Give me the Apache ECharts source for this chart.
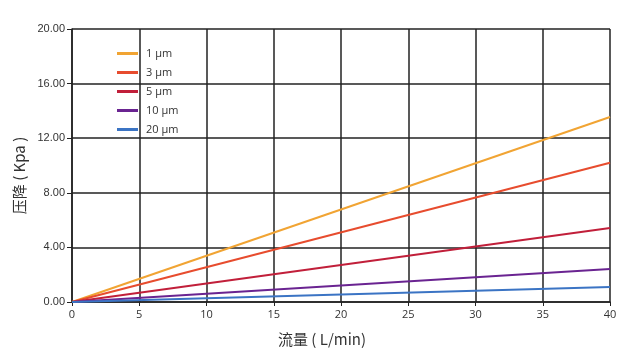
<!DOCTYPE html>
<html><head><meta charset="utf-8">
<script src="https://cdn.jsdelivr.net/npm/echarts@6/dist/echarts.min.js"></script>
<style>html,body{margin:0;padding:0;background:#fff}#c{width:642px;height:355px}</style>
</head><body><div id="c"></div>
<script>
const flowX = [0, 40];
const seriesNames = ['1 μm', '3 μm', '5 μm', '10 μm', '20 μm'];
const p1 = [0, 13.55];
const p3 = [0, 10.2];
const p5 = [0, 5.42];
const p10 = [0, 2.42];
const p20 = [0, 1.1];
const colors = ['#F1A433', '#E74C2E', '#C11F3A', '#6A2491', '#3B74C4'];
const allVals = [p1, p3, p5, p10, p20];

const chart = echarts.init(document.getElementById('c'));
chart.setOption({
  animation: false,
  backgroundColor: '#fff',
  grid: { left: 72, right: 32, top: 29, bottom: 53 },
  legend: {
    orient: 'vertical', left: 112, top: 43,
    itemWidth: 21, itemHeight: 3, itemGap: 8,
    icon: 'rect',
    textStyle: { fontFamily: 'Open Sans', fontSize: 11, color: '#333', padding: [0,0,0,3] },
    data: seriesNames
  },
  xAxis: {
    type: 'value', min: 0, max: 40, interval: 5,
    name: '流量 ( L/min)', nameLocation: 'middle', nameGap: 30,
    nameTextStyle: { fontFamily: 'Noto Sans CJK SC', fontSize: 15, color: '#333', padding: [0, 38, 0, 0] },
    axisLine: { show: true, lineStyle: { color: '#222', width: 1.5 } },
    axisTick: { show: true, length: 4, lineStyle: { color: '#222' } },
    axisLabel: { fontFamily: 'Open Sans', fontSize: 11, color: '#333', margin: 7 },
    splitLine: { show: true, lineStyle: { color: '#222', width: 1.5 } }
  },
  yAxis: {
    type: 'value', min: 0, max: 20, interval: 4,
    name: '压降 ( Kpa )', nameLocation: 'middle', nameGap: 41,
    nameTextStyle: { fontFamily: 'Noto Sans CJK SC', fontSize: 15, color: '#333', padding: [0, 20, 0, 0] },
    axisLine: { show: true, lineStyle: { color: '#222', width: 1.5 } },
    axisTick: { show: true, length: 5, lineStyle: { color: '#222' } },
    axisLabel: { fontFamily: 'Liberation Sans', fontSize: 11, color: '#333', margin: 7,
      formatter: v => v.toFixed(2) },
    splitLine: { show: true, lineStyle: { color: '#222', width: 1.5 } }
  },
  series: seriesNames.map((n, i) => ({
    name: n, type: 'line', symbol: 'none',
    data: flowX.map((x, j) => [x, allVals[i][j]]),
    lineStyle: { width: 2, color: colors[i] },
    itemStyle: { color: colors[i] }
  }))
});
</script></body></html>
